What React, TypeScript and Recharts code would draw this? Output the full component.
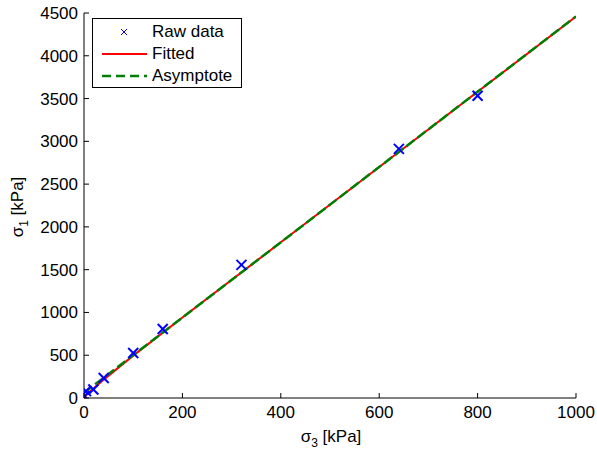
import React from 'react';
import { ComposedChart, XAxis, YAxis, CartesianGrid, Line, Scatter } from 'recharts';

const rawSigma3 = [1, 4, 19, 40, 100, 160, 320, 640, 800];
const rawSigma1 = [20, 80, 100, 234, 526, 807, 1556, 2912, 3532];
const fitSigma3 = [0, 5, 10, 20, 40, 100, 200, 400, 600, 800, 1000];
const fitSigma1 = [0, 35, 65, 115, 215, 495, 940, 1820, 2700, 3580, 4460];
const asymSigma3 = [0, 1000];
const asymSigma1 = [60, 4460];
const xTicks = [0, 200, 400, 600, 800, 1000];
const yTicks = [0, 500, 1000, 1500, 2000, 2500, 3000, 3500, 4000, 4500];

const rawData = rawSigma3.map((x, i) => ({ x, y: rawSigma1[i] }));
const fitData = fitSigma3.map((x, i) => ({ x, y: fitSigma1[i] }));
const asymData = asymSigma3.map((x, i) => ({ x, y: asymSigma1[i] }));

const FONT = '"Liberation Sans", Arial, Helvetica, sans-serif';

const XTick = (props: any) => {
  const { x, y, payload } = props;
  return (
    <g>
      <line x1={x} y1={y} x2={x} y2={y - 5} stroke="#000" />
      <text x={x} y={y + 20} textAnchor="middle" fontSize={17} fontFamily={FONT} fill="#000">
        {payload.value}
      </text>
    </g>
  );
};
const YTick = (props: any) => {
  const { x, y, payload } = props;
  return (
    <g>
      <line x1={x} y1={y} x2={x + 5} y2={y} stroke="#000" />
      <text x={x - 6} y={y} dy="0.35em" textAnchor="end" fontSize={17} fontFamily={FONT} fill="#000">
        {payload.value}
      </text>
    </g>
  );
};

const Cross = (props: any) => {
  const { cx, cy } = props;
  if (cx == null || cy == null) return null;
  const r = 5;
  return (
    <g stroke="#0000ff" strokeWidth={2}>
      <line x1={cx - r} y1={cy - r} x2={cx + r} y2={cy + r} />
      <line x1={cx - r} y1={cy + r} x2={cx + r} y2={cy - r} />
    </g>
  );
};

const xLabel = () => (
  <text x={331} y={442} textAnchor="middle" fontSize={17} fontFamily={FONT} fill="#000">
    σ<tspan fontSize={12} dy={5}>3</tspan>
    <tspan dy={-5}> [kPa]</tspan>
  </text>
);
const yLabel = () => (
  <text x={23} y={207} transform="rotate(-90 23 207)" textAnchor="middle" fontSize={17} fontFamily={FONT} fill="#000">
    σ<tspan fontSize={12} dy={5}>1</tspan>
    <tspan dy={-5}> [kPa]</tspan>
  </text>
);

const LegendBox = () => (
  <div
    style={{
      position: 'absolute',
      left: 92,
      top: 18,
      border: '1px solid #000',
      background: '#fff',
      width: 150,
      height: 70,
      fontFamily: FONT,
      fontSize: 17,
      color: '#000',
      boxSizing: 'border-box',
    }}
  >
    <svg width={60} height={68} style={{ position: 'absolute', left: 0, top: 0 }}>
      <g stroke="#0000ff" strokeWidth={1}>
        <line x1={28} y1={10} x2={34} y2={16} />
        <line x1={28} y1={16} x2={34} y2={10} />
      </g>
      <line x1={9} y1={35} x2={54} y2={35} stroke="#ff0000" strokeWidth={2} />
      <line x1={9} y1={57} x2={54} y2={57} stroke="#008000" strokeWidth={2.5} strokeDasharray="9 5" />
    </svg>
    <div style={{ position: 'absolute', left: 59, top: 3, lineHeight: '20px' }}>Raw data</div>
    <div style={{ position: 'absolute', left: 59, top: 25, lineHeight: '20px' }}>Fitted</div>
    <div style={{ position: 'absolute', left: 59, top: 47, lineHeight: '20px' }}>Asymptote</div>
  </div>
);

export default function App() {
  return (
    <div style={{ position: 'absolute', left: 0, top: 0, width: 597, height: 452, background: '#fff' }}>
      <ComposedChart width={597} height={452} margin={{ top: 13, right: 21, left: 0, bottom: 0 }}>
        <CartesianGrid stroke="#666" strokeDasharray="1 3" horizontalValues={yTicks} verticalValues={xTicks} />
        <XAxis
          xAxisId="b"
          type="number"
          dataKey="x"
          domain={[0, 1000]}
          ticks={xTicks}
          allowDataOverflow
          height={54}
          tickSize={0}
          tickMargin={0}
          tickLine={false}
          axisLine={{ stroke: '#000' }}
          tick={<XTick />}
          label={xLabel}
        />
        <YAxis
          yAxisId="l"
          type="number"
          dataKey="y"
          domain={[0, 4500]}
          ticks={yTicks}
          allowDataOverflow
          width={84}
          tickSize={0}
          tickMargin={0}
          tickLine={false}
          axisLine={{ stroke: '#000' }}
          tick={<YTick />}
          label={yLabel}
        />
        <Line
          xAxisId="b"
          yAxisId="l"
          data={fitData}
          dataKey="y"
          type="linear"
          stroke="#ff0000"
          strokeWidth={2}
          dot={false}
          isAnimationActive={false}
        />
        <Line
          xAxisId="b"
          yAxisId="l"
          data={asymData}
          dataKey="y"
          type="linear"
          stroke="#008000"
          strokeWidth={2.5}
          strokeDasharray="10 4"
          dot={false}
          isAnimationActive={false}
        />
        <Scatter
          xAxisId="b"
          yAxisId="l"
          data={rawData}
          dataKey="y"
          shape={<Cross />}
          isAnimationActive={false}
        />
      </ComposedChart>
      <LegendBox />
    </div>
  );
}
